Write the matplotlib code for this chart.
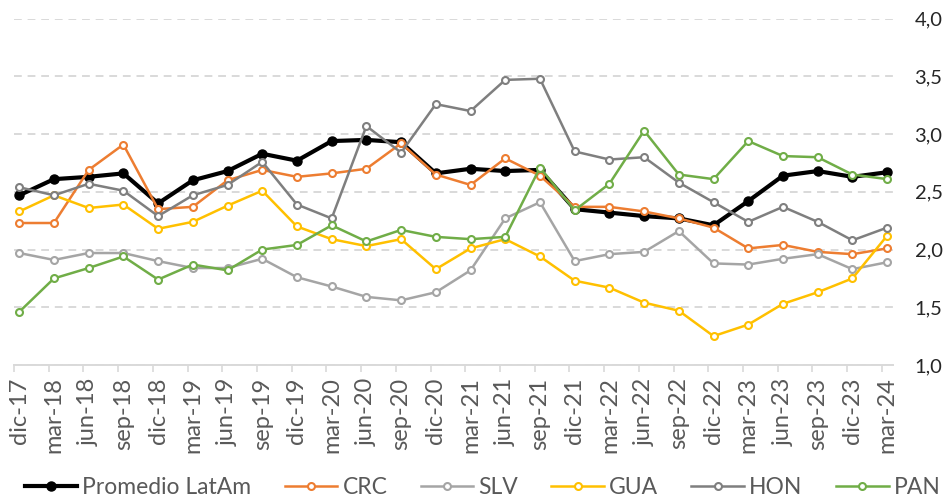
#!/usr/bin/env python
# -*- coding:utf-8 -*-
"""
Indicador trimestral: Promedio LatAm vs. CRC, SLV, GUA, HON, PAN
(dic-17 a mar-24).
"""

import numpy as np
from matplotlib import pyplot as plt

plt.rc("font", family=["Lato", "DejaVu Sans"])

# Trimestres
periods = ["dic-17", "mar-18", "jun-18", "sep-18", "dic-18", "mar-19",
	"jun-19", "sep-19", "dic-19", "mar-20", "jun-20", "sep-20", "dic-20",
	"mar-21", "jun-21", "sep-21", "dic-21", "mar-22", "jun-22", "sep-22",
	"dic-22", "mar-23", "jun-23", "sep-23", "dic-23", "mar-24"]

latam = [2.47, 2.61, 2.63, 2.66, 2.40, 2.60, 2.68, 2.83, 2.77, 2.94,
	2.95, 2.93, 2.66, 2.70, 2.68, 2.69, 2.35, 2.32, 2.29, 2.27,
	2.21, 2.42, 2.64, 2.68, 2.63, 2.67]
crc = [2.23, 2.23, 2.69, 2.91, 2.35, 2.37, 2.60, 2.69, 2.63, 2.66,
	2.70, 2.92, 2.65, 2.56, 2.79, 2.64, 2.37, 2.37, 2.33, 2.27,
	2.19, 2.01, 2.04, 1.98, 1.96, 2.01]
slv = [1.97, 1.91, 1.97, 1.97, 1.90, 1.84, 1.84, 1.92, 1.76, 1.68,
	1.59, 1.56, 1.63, 1.82, 2.27, 2.41, 1.90, 1.96, 1.98, 2.16,
	1.88, 1.87, 1.92, 1.96, 1.83, 1.89]
gua = [2.33, 2.47, 2.36, 2.39, 2.18, 2.24, 2.38, 2.51, 2.20, 2.09,
	2.03, 2.09, 1.83, 2.01, 2.09, 1.94, 1.73, 1.67, 1.54, 1.47,
	1.25, 1.35, 1.53, 1.63, 1.75, 2.12]
hon = [2.54, 2.47, 2.57, 2.51, 2.29, 2.47, 2.56, 2.76, 2.39, 2.27,
	3.07, 2.84, 3.26, 3.20, 3.47, 3.48, 2.85, 2.78, 2.80, 2.58,
	2.41, 2.24, 2.37, 2.24, 2.08, 2.19]
pan = [1.46, 1.75, 1.84, 1.94, 1.74, 1.87, 1.82, 2.00, 2.04, 2.21,
	2.07, 2.17, 2.11, 2.09, 2.11, 2.71, 2.34, 2.57, 3.03, 2.65,
	2.61, 2.94, 2.81, 2.80, 2.65, 2.61]

yTicks = [1.0, 1.5, 2.0, 2.5, 3.0, 3.5, 4.0]

series = [
	("Promedio LatAm", latam, "#000000"),
	("CRC", crc, "#ED7D31"),
	("SLV", slv, "#A5A5A5"),
	("GUA", gua, "#FFC000"),
	("HON", hon, "#7F7F7F"),
	("PAN", pan, "#70AD47"),
]

fig = plt.figure(figsize=(9.48, 5.03), dpi=100)
ax = fig.add_axes([0.0148, 0.2744, 0.9272, 0.6884])

x = np.arange(len(periods))
for name, vals, col in series:
	if name == "Promedio LatAm":
		ax.plot(x, vals, color=col, linewidth=3, marker="o", markersize=6.5,
			markerfacecolor=col, markeredgecolor=col, label=name)
	else:
		ax.plot(x, vals, color=col, linewidth=1.8, marker="o", markersize=5,
			markerfacecolor="white", markeredgecolor=col, markeredgewidth=1.5,
			label=name)

ax.set_ylim(1.0, 4.0)
ax.set_xlim(-0.15, len(periods) - 1 + 0.17)

# Gridlines
ax.set_yticks(yTicks)
ax.set_yticklabels([("%.1f" % v).replace(".", ",") for v in yTicks])
ax.yaxis.tick_right()
ax.tick_params(axis="y", length=0, pad=15.5, labelsize=14.5, labelcolor="#262626")
ax.yaxis.grid(True, color="#D9D9D9", linestyle=(0, (4, 3)), linewidth=1.4)
ax.set_axisbelow(True)

ax.set_xticks(x)
ax.set_xticklabels(periods, rotation=90)
ax.tick_params(axis="x", which="major", length=0, pad=9, labelsize=17,
	labelcolor="#595959")
ax.set_xticks(x - 0.15, minor=True)
ax.tick_params(axis="x", which="minor", length=5, width=1.2, color="#D9D9D9")

for s in ["top", "left", "right"]:
	ax.spines[s].set_visible(False)
ax.spines["bottom"].set_color("#D9D9D9")
ax.spines["bottom"].set_linewidth(1.4)

leg = fig.legend(loc="lower center", bbox_to_anchor=(0.509, -0.032), ncol=6,
	frameon=False, fontsize=16.5, handlelength=2.3, handletextpad=0.22,
	columnspacing=1.45, labelcolor="#595959")

plt.savefig("out.png", dpi=100)
